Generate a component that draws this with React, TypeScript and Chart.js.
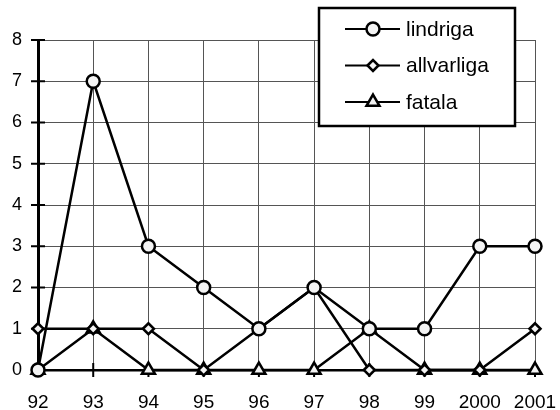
import React, { useEffect, useRef } from "react";
import { Chart, registerables } from "chart.js";
import { drawPoint } from "chart.js/helpers";

Chart.register(...registerables);

const years = ["92", "93", "94", "95", "96", "97", "98", "99", "2000", "2001"];
const lindriga = [0, 7, 3, 2, 1, 2, 1, 1, 3, 3];
const allvarliga = [1, 1, 1, 0, 1, 2, 0, 0, 0, 1];
const fatala = [0, 1, 0, 0, 0, 0, 1, 0, 0, 0];
const seriesNames = ["lindriga", "allvarliga", "fatala"];
const markerStyles = ["circle", "rectRot", "triangle"];
const markerSizes = [6.5, 5.5, 7.5];

const tickMarksPlugin = {
  id: "crossTicks",
  beforeDatasetsDraw(chart: any) {
    const { ctx, chartArea, scales } = chart;
    ctx.save();
    ctx.strokeStyle = "#000";
    ctx.lineWidth = 2;
    scales.y.ticks.forEach((t: any) => {
      const y = scales.y.getPixelForValue(t.value);
      ctx.beginPath();
      ctx.moveTo(chartArea.left - 7, y);
      ctx.lineTo(chartArea.left + 7, y);
      ctx.stroke();
    });
    years.forEach((_, i) => {
      const x = scales.x.getPixelForValue(i);
      ctx.beginPath();
      ctx.moveTo(x, chartArea.bottom - 7);
      ctx.lineTo(x, chartArea.bottom + 7);
      ctx.stroke();
    });
    ctx.restore();
  },
};

const boxLegendPlugin = {
  id: "boxLegend",
  afterDraw(chart: any) {
    const { ctx } = chart;
    ctx.save();
    const bx = 319, by = 8, bw = 196, bh = 118;
    ctx.fillStyle = "#fff";
    ctx.fillRect(bx, by, bw, bh);
    ctx.strokeStyle = "#000";
    ctx.lineWidth = 2.5;
    ctx.strokeRect(bx, by, bw, bh);
    chart.data.datasets.forEach((ds: any, i: number) => {
      const y = 29 + i * 36.5;
      ctx.strokeStyle = "#000";
      ctx.lineWidth = 2;
      ctx.beginPath();
      ctx.moveTo(345, y);
      ctx.lineTo(400, y);
      ctx.stroke();
      ctx.fillStyle = "#f4f4f4";
      ctx.strokeStyle = "#000";
      ctx.lineWidth = 2.5;
      drawPoint(ctx, { pointStyle: ds.pointStyle, radius: ds.pointRadius, borderWidth: 2.5, rotation: 0 } as any, 373, y);
      ctx.fillStyle = "#000";
      ctx.font = "21px Arial, 'Liberation Sans', sans-serif";
      ctx.textBaseline = "middle";
      ctx.textAlign = "left";
      ctx.fillText(ds.label, 406, y + 1);
    });
    ctx.restore();
  },
};

export default function App() {
  const ref = useRef<HTMLCanvasElement>(null);
  useEffect(() => {
    document.body.style.margin = "0";
    const seriesData = [lindriga, allvarliga, fatala];
    const chart = new Chart(ref.current as HTMLCanvasElement, {
      type: "line",
      data: {
        labels: years,
        datasets: seriesData.map((d, i) => ({
          label: seriesNames[i],
          data: d,
          borderColor: "#000",
          borderWidth: 2.5,
          pointStyle: markerStyles[i] as any,
          pointRadius: markerSizes[i],
          pointBorderWidth: 2.5,
          pointBackgroundColor: "#f4f4f4",
          pointBorderColor: "#000",
          tension: 0,
          clip: false as any,
        })),
      },
      options: {
        responsive: false,
        animation: false,
        layout: { padding: { top: 40, right: 25, left: 0, bottom: 0 } },
        plugins: { legend: { display: false }, tooltip: { enabled: false } },
        scales: {
          x: {
            offset: false,
            grid: { color: "#555", lineWidth: 1, drawTicks: false },
            border: { display: true, color: "#000", width: 2.5 },
            ticks: {
              color: "#000",
              padding: 21,
              maxRotation: 0,
              autoSkip: false,
              font: { family: "Arial, 'Liberation Sans', sans-serif", size: 19 },
            },
            afterFit: (s: any) => { s.height = 40; s.paddingRight = 0; s.paddingLeft = 0; },
          },
          y: {
            min: 0,
            max: 8,
            grid: { color: "#555", lineWidth: 1, drawTicks: false },
            border: { display: true, color: "#000", width: 3 },
            ticks: {
              stepSize: 1,
              color: "#000",
              padding: 16,
              font: { family: "Arial, 'Liberation Sans', sans-serif", size: 18 },
            },
            afterFit: (s: any) => { s.width = 38; s.paddingTop = 0; s.paddingBottom = 0; },
          },
        },
      },
      plugins: [tickMarksPlugin, boxLegendPlugin],
    });
    return () => chart.destroy();
  }, []);
  return <canvas ref={ref} width={560} height={410} style={{ display: "block" }} />;
}
